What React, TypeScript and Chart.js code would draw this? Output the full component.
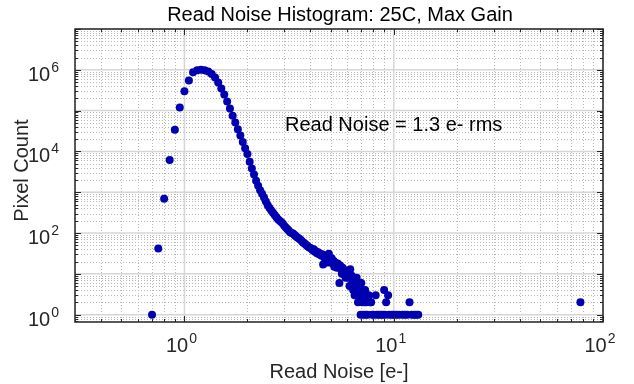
import React, { useEffect, useRef } from 'react';
import { Chart, registerables } from 'chart.js';

Chart.register(...registerables);

const TITLE = 'Read Noise Histogram: 25C, Max Gain';
const X_TITLE = 'Read Noise [e-]';
const Y_TITLE = 'Pixel Count';
const ANNOTATION = 'Read Noise = 1.3 e- rms';

const X_MIN = 0.3;
const X_MAX = 100;
const Y_MIN = 0.66;
const Y_MAX = 1e7;

// labelled decades (exponents)
const X_TICK_EXPONENTS = [0, 1, 2];
const Y_TICK_EXPONENTS = [0, 2, 4, 6];

// histogram bin centres [e-] and pixel counts
const readNoise = [
  0.7, 0.75, 0.8, 0.85, 0.9, 0.95, 1.0, 1.05, 1.1, 1.15, 1.2, 1.25, 1.3, 1.35, 1.4, 1.45,
  1.5, 1.55, 1.6, 1.65, 1.7, 1.75, 1.8, 1.85, 1.9, 1.95, 2.0, 2.05, 2.1, 2.15, 2.2, 2.25,
  2.3, 2.35, 2.4, 2.45, 2.5, 2.55, 2.6, 2.65, 2.7, 2.75, 2.8, 2.85, 2.9, 2.95, 3.0, 3.05,
  3.1, 3.15, 3.2, 3.25, 3.3, 3.35, 3.4, 3.45, 3.5, 3.55, 3.6, 3.65, 3.7, 3.75, 3.8, 3.85,
  3.9, 3.95, 4.0, 4.05, 4.1, 4.15, 4.2, 4.25, 4.3, 4.35, 4.4, 4.45, 4.5, 4.55, 4.6, 4.65,
  4.7, 4.75, 4.8, 4.85, 4.9, 4.95, 5.0, 5.05, 5.1, 5.15, 5.2, 5.25, 5.3, 5.35, 5.4, 5.45,
  5.5, 5.55, 5.6, 5.65, 5.7, 5.75, 5.8, 5.85, 5.9, 5.95, 6.0, 6.05, 6.1, 6.15, 6.2, 6.25,
  6.3, 6.35, 6.4, 6.45, 6.5, 6.55, 6.6, 6.65, 6.7, 6.75, 6.8, 6.85, 6.9, 6.95, 7.0, 7.05,
  7.1, 7.15, 7.2, 7.25, 7.3, 7.35, 7.4, 7.5, 7.6, 7.7, 7.8, 7.9, 8.0, 8.2, 8.3, 8.5,
  8.7, 8.9, 9.0, 9.1, 9.2, 9.4, 9.5, 9.8, 10.0, 10.3, 10.6, 11.0, 11.3, 11.6, 11.9, 12.2,
  12.5, 12.8, 13.1, 78,
];
const pixelCount = [
  1, 42, 690, 6200, 34000, 120000, 300000, 545000, 870000, 980000, 1000000, 980000, 910000, 790000, 650000, 490000,
  350000, 248000, 167000, 112000, 75000, 51000, 35000, 24400, 16900, 12000, 8600, 5600, 3800, 2700, 1920, 1450,
  1120, 920, 740, 590, 480, 410, 355, 316, 275, 245, 219, 201, 185, 170, 151, 136,
  125, 115, 105, 100, 97, 91, 84, 79, 75, 71, 67, 62, 58, 55, 52, 49,
  46, 44, 43, 41, 38, 40, 35, 36, 32, 34, 30, 31, 28, 30, 17, 25,
  28, 23, 26, 19, 31, 22, 20, 24, 18, 21, 15, 19, 16, 14, 18, 15,
  6, 16, 13, 10, 14, 11, 12, 9, 8, 12, 10, 8, 11, 5, 13, 5,
  9, 6, 4, 8, 3, 6, 5, 8, 4, 2, 5, 3, 6, 1, 6, 2,
  4, 1, 3, 2, 4, 1, 2, 1, 3, 2, 2, 1, 1, 3, 1, 1,
  1, 1, 4, 1, 2, 3, 1, 1, 1, 1, 1, 1, 1, 1, 2, 1,
  1, 1, 1, 2,
];

const FONT = '"Liberation Sans", Arial, Helvetica, sans-serif';
const TEXT_COLOR = '#262626';
const POINT_COLOR = '#0000b0';

function minorValues(min: number, max: number): number[] {
  const out: number[] = [];
  const lo = Math.floor(Math.log10(min));
  const hi = Math.ceil(Math.log10(max));
  for (let e = lo; e <= hi; e++) {
    for (let k = 1; k <= 9; k++) {
      const v = k * Math.pow(10, e);
      if (v >= min * 0.9999 && v <= max * 1.0001) out.push(v);
    }
  }
  return out;
}

function isDecade(v: number): boolean {
  return Math.abs(Math.log10(v) - Math.round(Math.log10(v))) < 1e-9;
}

function drawPower(ctx: CanvasRenderingContext2D, exp: number, x: number, baseline: number, align: 'center' | 'right') {
  const base = '10';
  const sup = String(exp);
  ctx.font = `20px ${FONT}`;
  const wb = ctx.measureText(base).width;
  ctx.font = `14px ${FONT}`;
  const ws = ctx.measureText(sup).width;
  const total = wb + ws + 1;
  const left = align === 'center' ? x - total / 2 : x - total;
  ctx.textAlign = 'left';
  ctx.textBaseline = 'alphabetic';
  ctx.font = `20px ${FONT}`;
  ctx.fillText(base, left, baseline);
  ctx.font = `14px ${FONT}`;
  ctx.fillText(sup, left + wb + 1, baseline - 9);
}

const matlabAxes = {
  id: 'matlabAxes',
  beforeDatasetsDraw(chart: any) {
    const { ctx, chartArea: a, scales } = chart;
    const xs = scales.x;
    const ys = scales.y;
    ctx.save();
    ctx.fillStyle = '#ffffff';
    ctx.fillRect(a.left, a.top, a.right - a.left, a.bottom - a.top);
    const xv = minorValues(X_MIN, X_MAX);
    const yv = minorValues(Y_MIN, Y_MAX);
    // minor grid (dotted)
    ctx.lineWidth = 1;
    ctx.setLineDash([1, 2]);
    ctx.strokeStyle = '#b8b8b8';
    for (const v of xv) {
      if (isDecade(v)) continue;
      const px = Math.round(xs.getPixelForValue(v)) + 0.5;
      ctx.beginPath();
      ctx.moveTo(px, a.top);
      ctx.lineTo(px, a.bottom);
      ctx.stroke();
    }
    for (const v of yv) {
      if (isDecade(v)) continue;
      const py = Math.round(ys.getPixelForValue(v)) + 0.5;
      ctx.beginPath();
      ctx.moveTo(a.left, py);
      ctx.lineTo(a.right, py);
      ctx.stroke();
    }
    // major grid (solid)
    ctx.setLineDash([]);
    ctx.strokeStyle = '#d6d6d6';
    ctx.lineWidth = 1.5;
    for (const v of xv) {
      if (!isDecade(v)) continue;
      const px = xs.getPixelForValue(v);
      ctx.beginPath();
      ctx.moveTo(px, a.top);
      ctx.lineTo(px, a.bottom);
      ctx.stroke();
    }
    for (const v of yv) {
      if (!isDecade(v)) continue;
      const py = ys.getPixelForValue(v);
      ctx.beginPath();
      ctx.moveTo(a.left, py);
      ctx.lineTo(a.right, py);
      ctx.stroke();
    }
    ctx.restore();
  },
  afterDraw(chart: any) {
    const { ctx, chartArea: a, scales } = chart;
    const xs = scales.x;
    const ys = scales.y;
    ctx.save();
    // ticks (inward, all sides)
    ctx.strokeStyle = TEXT_COLOR;
    ctx.lineWidth = 1;
    const xv = minorValues(X_MIN, X_MAX);
    const yv = minorValues(Y_MIN, Y_MAX);
    for (const v of xv) {
      const len = isDecade(v) ? 6 : 3;
      const px = Math.round(xs.getPixelForValue(v)) + 0.5;
      ctx.beginPath();
      ctx.moveTo(px, a.bottom);
      ctx.lineTo(px, a.bottom - len);
      ctx.moveTo(px, a.top);
      ctx.lineTo(px, a.top + len);
      ctx.stroke();
    }
    for (const v of yv) {
      const len = isDecade(v) ? 6 : 3;
      const py = Math.round(ys.getPixelForValue(v)) + 0.5;
      ctx.beginPath();
      ctx.moveTo(a.left, py);
      ctx.lineTo(a.left + len, py);
      ctx.moveTo(a.right, py);
      ctx.lineTo(a.right - len, py);
      ctx.stroke();
    }
    // box
    ctx.lineWidth = 1.5;
    ctx.strokeRect(a.left, a.top, a.right - a.left, a.bottom - a.top);

    ctx.fillStyle = TEXT_COLOR;
    for (const e of X_TICK_EXPONENTS) {
      const px = xs.getPixelForValue(Math.pow(10, e));
      drawPower(ctx, e, px - 3, a.bottom + 30, 'center');
    }
    for (const e of Y_TICK_EXPONENTS) {
      const py = ys.getPixelForValue(Math.pow(10, e));
      drawPower(ctx, e, a.left - 16, py + 11, 'right');
    }

    // titles
    ctx.font = `20px ${FONT}`;
    ctx.textAlign = 'center';
    ctx.textBaseline = 'alphabetic';
    ctx.fillStyle = '#000000';
    ctx.fillText(TITLE, (a.left + a.right) / 2 + 1, 21);
    ctx.fillStyle = TEXT_COLOR;
    ctx.fillText(X_TITLE, (a.left + a.right) / 2, 378);
    ctx.save();
    ctx.translate(28, (a.top + a.bottom) / 2 - 5);
    ctx.rotate(-Math.PI / 2);
    ctx.fillText(Y_TITLE, 0, 0);
    ctx.restore();

    // annotation
    ctx.fillStyle = '#000000';
    ctx.textAlign = 'left';
    ctx.fillText(ANNOTATION, 285, 131);
    ctx.restore();
  },
};

export default function App() {
  const canvasRef = useRef<HTMLCanvasElement | null>(null);

  useEffect(() => {
    if (!canvasRef.current) return;
    const data = readNoise.map((x, i) => ({ x, y: pixelCount[i] }));
    const chart = new Chart(canvasRef.current, {
      type: 'scatter',
      data: {
        datasets: [
          {
            data,
            backgroundColor: POINT_COLOR,
            borderColor: POINT_COLOR,
            borderWidth: 0,
            pointRadius: 4,
            pointHoverRadius: 4,
          },
        ],
      },
      options: {
        responsive: false,
        maintainAspectRatio: false,
        animation: false,
        devicePixelRatio: 1,
        layout: { padding: { left: 75, right: 31, top: 29, bottom: 62 } },
        plugins: {
          legend: { display: false },
          tooltip: { enabled: false },
          title: { display: false },
        },
        scales: {
          x: { type: 'logarithmic', min: X_MIN, max: X_MAX, display: false },
          y: { type: 'logarithmic', min: Y_MIN, max: Y_MAX, display: false },
        },
      },
      plugins: [matlabAxes],
    });
    return () => chart.destroy();
  }, []);

  return (
    <div style={{ position: 'absolute', left: 0, top: 0, width: 634, height: 384, background: '#ffffff' }}>
      <canvas ref={canvasRef} width={634} height={384} style={{ display: 'block' }} />
    </div>
  );
}
